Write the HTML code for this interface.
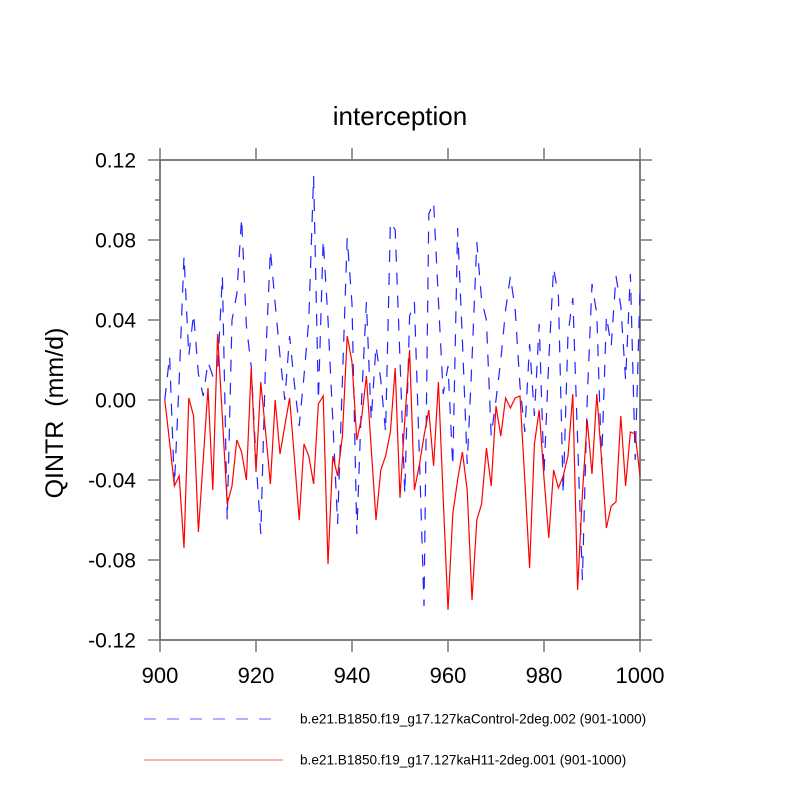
<!DOCTYPE html>
<html><head><meta charset="utf-8"><style>
html,body{margin:0;padding:0;background:#fff;}
svg{display:block;font-family:"Liberation Sans",Arial,sans-serif;}
</style></head><body>
<svg id="chart" width="800" height="800" viewBox="0 0 800 800" xmlns="http://www.w3.org/2000/svg">
<text x="400" y="125" font-size="26" text-anchor="middle">interception</text>
<text transform="translate(63,413) rotate(-90)" font-size="25" text-anchor="middle">QINTR&#160;&#160;(mm/d)</text>
<g id="axes"></g>
<g id="series"></g>
<g>
<line x1="144" y1="719" x2="276" y2="719" stroke="#6666ff" stroke-width="1" stroke-dasharray="12,11"/>
<text x="300" y="723.5" font-size="13.6">b.e21.B1850.f19_g17.127kaControl-2deg.002 (901-1000)</text>
<line x1="144" y1="760" x2="283" y2="760" stroke="#ff6666" stroke-width="1"/>
<text x="300" y="764.5" font-size="13.6">b.e21.B1850.f19_g17.127kaH11-2deg.001 (901-1000)</text>
</g>
</svg>
<script>
const xTicks = [900, 920, 940, 960, 980, 1000];
const yTicks = [-0.12, -0.08, -0.04, 0.00, 0.04, 0.08, 0.12];
const yTickLabels = ["-0.12", "-0.08", "-0.04", "0.00", "0.04", "0.08", "0.12"];
const startYear = 901;
const controlValues = [0.000,0.022,-0.043,0.010,0.072,0.022,0.043,0.013,0.002,0.019,
0.012,0.015,0.062,-0.060,0.040,0.053,0.091,0.037,0.017,-0.030,
-0.067,0.020,0.075,0.048,0.022,0.000,0.032,0.008,-0.013,0.012,
0.040,0.112,0.000,0.080,0.040,-0.010,-0.062,0.010,0.081,0.048,
-0.067,0.000,0.049,-0.010,0.027,0.010,-0.016,0.089,0.085,0.020,
-0.047,0.042,0.049,-0.025,-0.103,0.093,0.099,0.050,0.003,0.017,
-0.033,0.086,0.030,-0.032,0.020,0.079,0.050,0.040,-0.018,0.000,
0.020,0.045,0.062,0.045,0.007,-0.016,0.028,-0.008,0.038,-0.037,
0.020,0.066,0.052,-0.047,0.033,0.051,-0.020,-0.090,0.000,0.058,
0.043,-0.032,0.042,0.027,0.062,0.047,0.010,0.063,-0.030,0.055];
const h11Values = [0.000,-0.021,-0.043,-0.038,-0.074,0.001,-0.008,-0.066,-0.030,0.006,
-0.045,0.033,-0.009,-0.052,-0.043,-0.020,-0.026,-0.040,0.016,-0.036,
0.009,-0.016,-0.042,0.000,-0.027,-0.013,0.001,-0.029,-0.060,-0.022,
-0.028,-0.042,-0.002,0.002,-0.082,-0.028,-0.038,-0.018,0.032,0.019,
-0.020,-0.009,0.012,-0.024,-0.060,-0.035,-0.028,-0.016,0.016,-0.049,
-0.010,0.025,-0.045,-0.033,-0.018,-0.005,-0.033,0.009,-0.049,-0.105,
-0.057,-0.040,-0.026,-0.045,-0.100,-0.060,-0.052,-0.024,-0.043,-0.003,
-0.018,0.001,-0.004,0.001,0.002,-0.040,-0.084,-0.022,-0.005,-0.039,
-0.069,-0.035,-0.044,-0.038,-0.028,0.003,-0.095,-0.047,-0.010,-0.037,
0.003,-0.030,-0.064,-0.053,-0.051,-0.008,-0.043,-0.016,-0.017,-0.038];

const L=160,R=640,T=160,B=640;
const xMin=900,xMax=1000,yMin=-0.12,yMax=0.12;
function xs(v){return L+(v-xMin)/(xMax-xMin)*(R-L);}
function ys(v){return B-(v-yMin)/(yMax-yMin)*(B-T);}
const NS="http://www.w3.org/2000/svg";
function mk(tag,attrs,parent){const e=document.createElementNS(NS,tag);for(const k in attrs)e.setAttribute(k,attrs[k]);parent.appendChild(e);return e;}
const axes=document.getElementById('axes');
const series=document.getElementById('series');
const col="#777";
const frame=mk('rect',{x:L,y:T,width:R-L,height:B-T,fill:'none',stroke:'#555','stroke-width':1.5},axes);


for(let i=0;i<=24;i++){
  const v=yMin+i*0.01, y=ys(v);
  const major=(i%4===0);
  const len=major?12:5;
  const a=mk('line',{x1:L-len,y1:y,x2:L,y2:y,stroke:col,'stroke-width':1.5},axes);
  
  
  const b=mk('line',{x1:R,y1:y,x2:R+len,y2:y,stroke:col,'stroke-width':1.5},axes);
  
  
}
yTicks.forEach((v,i)=>{
  const t=mk('text',{x:136,y:ys(v)+7.5,'font-size':21,'text-anchor':'end'},axes);
  t.textContent=yTickLabels[i];
  
  
});
xTicks.forEach(v=>{
  const x=xs(v);
  const a=mk('line',{x1:x,y1:B,x2:x,y2:B+12,stroke:col,'stroke-width':1.5},axes);
  
  
  const b=mk('line',{x1:x,y1:T-12,x2:x,y2:T,stroke:col,'stroke-width':1.5},axes);
  
  
  const t=mk('text',{x:x,y:683,'font-size':22,'text-anchor':'middle'},axes);
  t.textContent=String(v);
  
  
});
function pts(arr){return arr.map((v,i)=>xs(startYear+i).toFixed(2)+','+ys(v).toFixed(2)).join(' ');}
const pc=mk('polyline',{points:pts(controlValues),fill:'none',stroke:'#2222ff','stroke-width':1.2,'stroke-dasharray':'12,11'},series);


const ph=mk('polyline',{points:pts(h11Values),fill:'none',stroke:'#ff0000','stroke-width':1.2},series);


</script>
</body></html>
